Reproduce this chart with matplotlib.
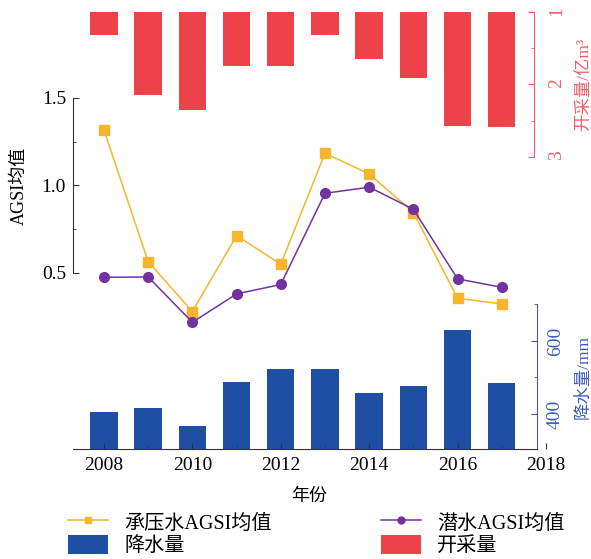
import matplotlib
matplotlib.use("Agg")
import matplotlib.pyplot as plt
import matplotlib.transforms as mtransforms
from matplotlib.ticker import FixedLocator, FormatStrFormatter
from matplotlib.lines import Line2D
from matplotlib.patches import Patch

plt.rcParams['font.family'] = ['Liberation Serif', 'Noto Sans CJK SC']
plt.rcParams['axes.unicode_minus'] = False

years = [2008, 2009, 2010, 2011, 2012, 2013, 2014, 2015, 2016, 2017]
confined_agsi = [1.317, 0.565, 0.279, 0.713, 0.550, 1.184, 1.066, 0.845, 0.355, 0.323]
phreatic_agsi = [0.475, 0.477, 0.218, 0.380, 0.434, 0.955, 0.990, 0.864, 0.466, 0.418]
precipitation = [405, 416, 367, 488, 522, 522, 457, 478, 630, 484]
exploitation = [1.31, 2.14, 2.35, 1.75, 1.75, 1.31, 1.64, 1.91, 2.57, 2.59]
x_ticks = [2008, 2010, 2012, 2014, 2016, 2018]

c_conf = '#F7B52C'
c_phr = '#7232A0'
c_rain = '#1F4EA5'
c_rain_axis = '#3D5CB8'
c_expl = '#EE424B'
c_expl_axis = '#F25C66'
c_dark = '#333333'
fs = 14

W, H = 591, 559
fig = plt.figure(figsize=(W / 100, H / 100), dpi=100)
left_px, right_px, top_px, bottom_px = 73, 546, 12, 449
ax1 = fig.add_axes([left_px / W, 1 - bottom_px / H,
                    (right_px - left_px) / W, (bottom_px - top_px) / H])
ax2 = ax1.twinx()
ax3 = ax1.twinx()
ax1.set_zorder(3)
ax1.patch.set_visible(False)

x_lo, x_hi = 2007.3, 2018.0
ax1.set_xlim(x_lo, x_hi)

# precipitation bars (lower right axis)
ax2.bar(years, precipitation, width=0.62, color=c_rain, zorder=2)
ax2.set_ylim(304.1, 1501)
# exploitation bars hanging from the top (inverted right axis)
ax3.bar(years, [v - 1 for v in exploitation], bottom=1, width=0.62,
        color=c_expl, zorder=2)
ax3.set_ylim(7.048, 0.996)

# AGSI lines
ax1.plot(years, confined_agsi, color=c_conf, lw=1.1, marker='s', ms=6.5,
         zorder=4)
ax1.plot(years, phreatic_agsi, color=c_phr, lw=1.1, marker='o', ms=7,
         zorder=5)
ax1.set_ylim(-0.506, 1.991)

# spines
for a in (ax1, ax2, ax3):
    for s in a.spines.values():
        s.set_visible(False)
ax1.spines['left'].set_visible(True)
ax1.spines['left'].set_bounds(0.5, 1.5)
ax1.spines['left'].set_color(c_dark)
ax1.spines['bottom'].set_visible(True)
ax1.spines['bottom'].set_bounds(x_lo, 2017.8)
ax1.spines['bottom'].set_color(c_dark)

ax2.spines['right'].set_visible(True)
ax2.spines['right'].set_position(('data', 2017.8))
ax2.spines['right'].set_bounds(304.1, 700)
ax2.spines['right'].set_color(c_rain_axis)

ax3.spines['right'].set_visible(True)
ax3.spines['right'].set_position(('data', 2017.73))
ax3.spines['right'].set_bounds(1, 3)
ax3.spines['right'].set_color(c_expl_axis)

# x axis
ax1.xaxis.set_major_locator(FixedLocator(x_ticks))
ax1.xaxis.set_minor_locator(FixedLocator(years))
ax1.tick_params(axis='x', which='major', direction='in', length=4,
                color=c_dark, labelsize=fs, pad=6)
ax1.tick_params(axis='x', which='minor', direction='in', length=2.5,
                color=c_dark)
ax1.set_xlabel('年份', fontsize=13, labelpad=10)
for t in ax1.xaxis.get_major_ticks():
    if t.get_loc() == 2018:
        t.tick1line.set_visible(False)

# left axis
ax1.yaxis.set_major_locator(FixedLocator([0.5, 1.0, 1.5]))
ax1.yaxis.set_minor_locator(FixedLocator([0.75, 1.25]))
ax1.yaxis.set_major_formatter(FormatStrFormatter('%.1f'))
ax1.tick_params(axis='y', which='major', direction='in', length=4,
                color=c_dark, labelsize=fs, pad=5)
ax1.tick_params(axis='y', which='minor', direction='in', length=2.5,
                color=c_dark)
ax1.set_ylabel('AGSI均值', fontsize=13)
ax1.yaxis.set_label_coords(
    -0.095, 1.0,
    transform=mtransforms.blended_transform_factory(ax1.transAxes, ax1.transData))

# precipitation axis
ax2.yaxis.set_major_locator(FixedLocator([400, 600]))
ax2.yaxis.set_minor_locator(FixedLocator([500, 700]))
ax2.tick_params(axis='y', which='major', direction='in', length=4,
                color=c_rain_axis, labelcolor=c_rain_axis, labelsize=fs,
                labelrotation=90, pad=7)
ax2.tick_params(axis='y', which='minor', direction='in', length=2.5,
                color=c_rain_axis)
for lab in ax2.get_yticklabels():
    lab.set_va('center')
ax2.set_ylabel('降水量/mm', fontsize=12.5, color=c_rain_axis)
ax2.yaxis.set_label_coords(
    1.063, 500,
    transform=mtransforms.blended_transform_factory(ax2.transAxes, ax2.transData))

# exploitation axis
ax3.yaxis.set_major_locator(FixedLocator([1, 2, 3]))
ax3.yaxis.set_minor_locator(FixedLocator([1.5, 2.5]))
ax3.tick_params(axis='y', which='major', direction='in', length=4,
                color=c_expl_axis, labelcolor=c_expl_axis, labelsize=fs,
                labelrotation=90, pad=10)
ax3.tick_params(axis='y', which='minor', direction='in', length=2.5,
                color=c_expl_axis)
ax3.set_ylabel('开采量/亿m³', fontsize=12.5, color=c_expl_axis)
ax3.yaxis.set_label_coords(
    1.063, 2,
    transform=mtransforms.blended_transform_factory(ax3.transAxes, ax3.transData))

# legend
handles = [
    Line2D([], [], color=c_conf, lw=1.1, marker='s', ms=5),
    Patch(facecolor=c_rain),
    Line2D([], [], color=c_phr, lw=1.1, marker='o', ms=5),
    Patch(facecolor=c_expl),
]
labels = ['承压水AGSI均值', '降水量', '潜水AGSI均值', '开采量']
fig.legend(handles, labels, ncol=2, loc='upper left',
           bbox_to_anchor=(68 / W, 1 - 512 / H), frameon=False,
           fontsize=14.5, handlelength=2.0, handleheight=1.1,
           handletextpad=0.8, columnspacing=5.4, labelspacing=0.05,
           borderpad=0, borderaxespad=0)

fig.savefig('out.png', dpi=100)
